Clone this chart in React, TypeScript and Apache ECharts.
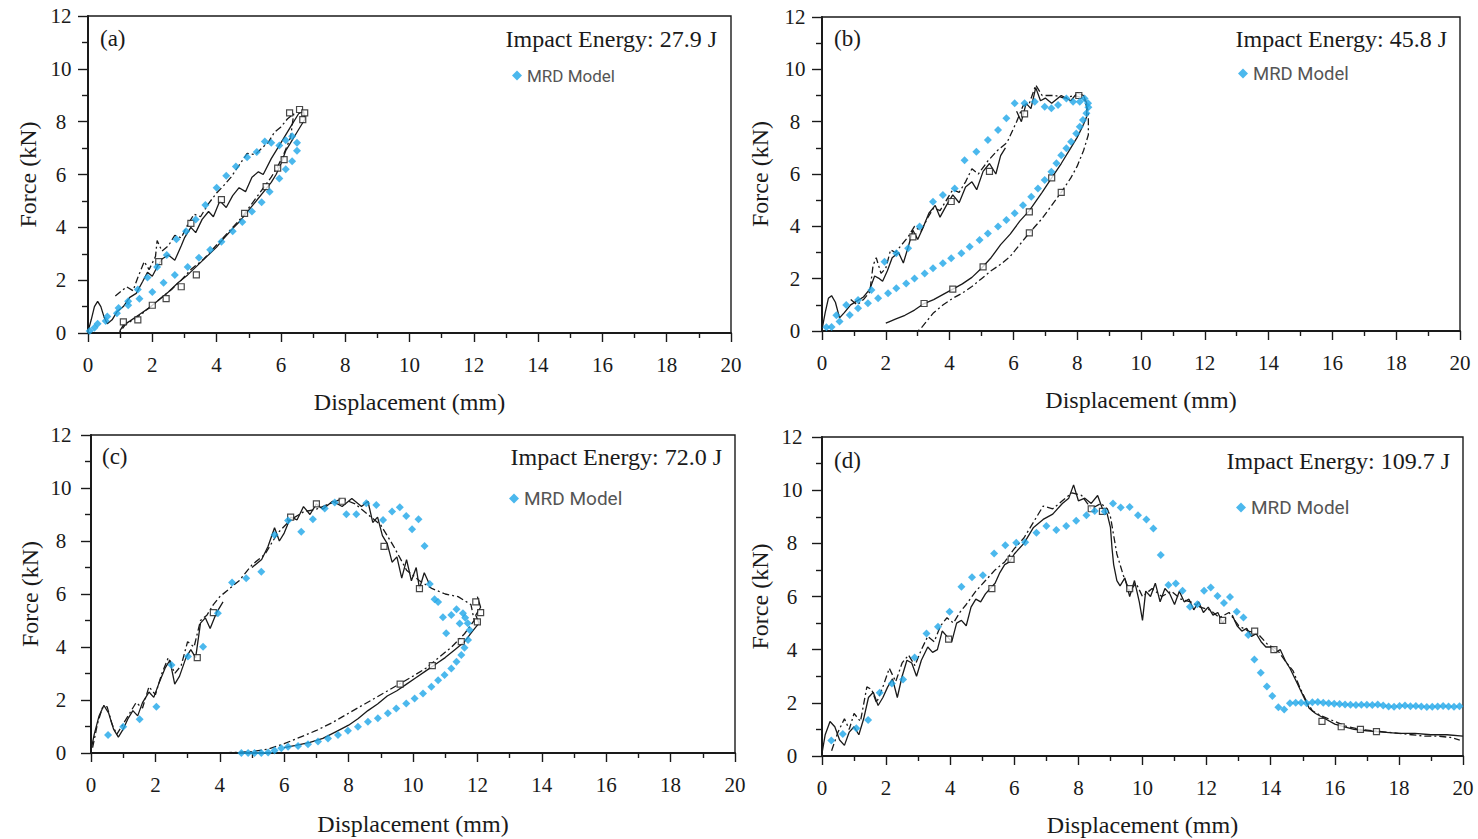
import React, { useEffect, useRef } from "react";
import * as echarts from "echarts";

// ---------------- DATA ----------------
const xTicks = [0, 2, 4, 6, 8, 10, 12, 14, 16, 18, 20];
const yTicks = [0, 2, 4, 6, 8, 10, 12];
const panelLabels = ["(a)", "(b)", "(c)", "(d)"];
const energyLabels = ["Impact Energy: 27.9 J", "Impact Energy: 45.8 J", "Impact Energy: 72.0 J", "Impact Energy: 109.7 J"];
const modelName = "MRD Model";

// Panel (a)
const mrdA = [
  [0.05, 0.08], [0.3, 0.35], [0.6, 0.62], [0.95, 0.95], [1.25, 1.2], [1.55, 1.65], [1.85, 2.1], [2.15, 2.5],
  [2.45, 2.95], [2.75, 3.55], [3.05, 3.85], [3.35, 4.3], [3.65, 4.85], [4.0, 5.5], [4.3, 5.95], [4.6, 6.3],
  [4.95, 6.65], [5.25, 6.85], [5.5, 7.25], [5.7, 7.2], [5.95, 7.1], [6.15, 7.3], [6.35, 7.45], [6.5, 7.2],
  [6.5, 6.9], [6.35, 6.5], [6.15, 6.2], [5.95, 5.85], [5.65, 5.35], [5.4, 4.95], [5.1, 4.6], [4.8, 4.2],
  [4.5, 3.85], [4.15, 3.45], [3.8, 3.15], [3.45, 2.85], [3.1, 2.5], [2.7, 2.2], [2.35, 1.9], [2.0, 1.55],
  [1.6, 1.3], [1.25, 1.05], [0.9, 0.75], [0.55, 0.45], [0.2, 0.2],
];
const solidA = [
  [0, 0.05], [0.1, 0.5], [0.2, 1.0], [0.3, 1.2], [0.4, 1.0], [0.5, 0.6], [0.6, 0.35], [0.75, 0.5], [0.9, 0.8],
  [1.1, 1.0], [1.3, 1.35], [1.5, 1.5], [1.7, 1.95], [1.85, 2.3], [2.0, 2.15], [2.15, 2.5], [2.3, 2.8], [2.5, 2.95],
  [2.7, 2.75], [2.9, 3.3], [3.0, 3.6], [3.2, 4.0], [3.35, 3.8], [3.55, 4.3], [3.75, 4.6], [3.9, 4.4], [4.1, 5.0],
  [4.3, 4.75], [4.5, 5.2], [4.7, 5.5], [4.9, 5.35], [5.1, 5.9], [5.3, 6.1], [5.45, 6.0], [5.7, 6.6], [6.0, 7.2],
  [6.3, 7.8], [6.55, 8.3], [6.7, 8.4], [6.75, 8.1], [6.5, 7.6], [6.3, 7.2], [6.15, 6.9], [6.0, 6.4], [5.85, 6.0],
  [5.7, 5.7], [5.5, 5.4], [5.3, 5.1], [5.1, 4.8], [4.9, 4.5], [4.7, 4.2], [4.5, 3.95], [4.2, 3.55], [4.0, 3.25],
  [3.7, 2.9], [3.4, 2.55], [3.1, 2.2], [2.8, 1.9], [2.5, 1.55], [2.2, 1.25], [1.9, 0.95], [1.6, 0.7], [1.3, 0.45],
  [1.1, 0.3], [1.0, 0.1], [1.0, 0],
];
const dashedA = [
  [0.85, 1.4], [1.0, 1.55], [1.2, 1.75], [1.4, 1.6], [1.55, 2.1], [1.75, 2.7], [1.9, 2.4], [2.1, 2.9], [2.15, 3.5],
  [2.3, 3.1], [2.5, 3.3], [2.7, 3.7], [2.9, 3.6], [3.1, 4.1], [3.3, 4.5], [3.5, 4.4], [3.75, 4.9], [4.0, 5.3],
  [4.2, 5.55], [4.45, 5.9], [4.7, 6.35], [4.95, 6.8], [5.2, 6.75], [5.45, 7.05], [5.6, 7.2], [5.8, 7.6], [6.0, 7.8],
  [6.2, 8.1], [6.4, 8.3], [6.3, 7.4], [6.1, 6.8], [5.9, 6.3], [5.7, 5.9], [5.4, 5.4], [5.1, 4.9], [4.8, 4.4],
  [4.5, 4.0], [4.2, 3.6], [3.9, 3.2], [3.6, 2.8], [3.2, 2.4], [2.9, 2.0], [2.6, 1.65], [2.3, 1.35], [2.0, 1.05],
  [1.7, 0.75], [1.4, 0.5], [1.15, 0.3], [1.0, 0.05], [1.0, 0], [3.0, 0],
];
const squaresA = [
  [2.2, 2.7], [3.2, 4.15], [4.15, 5.05], [1.1, 0.42], [1.55, 0.5], [2.0, 1.05], [2.43, 1.3], [2.9, 1.75], [3.37, 2.2],
  [4.87, 4.53], [5.54, 5.54], [5.9, 6.24], [6.1, 6.56], [6.27, 8.33], [6.58, 8.46], [6.74, 8.33], [6.68, 8.08],
];

// Panel (b)
const mrdB = [
  [0.14, 0.14], [0.45, 0.6], [0.76, 0.99], [1.13, 1.18], [1.55, 1.57], [1.96, 2.65], [2.33, 2.97], [2.7, 3.16],
  [3.06, 3.99], [3.48, 4.94], [3.79, 5.2], [4.16, 5.45], [4.47, 6.53], [4.84, 6.85], [5.2, 7.3], [5.52, 7.68],
  [5.78, 8.13], [6.04, 8.7], [6.35, 8.7], [6.67, 8.76], [6.98, 8.57], [7.19, 8.51], [7.4, 8.64], [7.66, 8.89],
  [7.87, 8.76], [8.08, 8.76], [8.23, 8.89], [8.34, 8.7], [8.35, 8.55], [8.29, 8.32], [8.18, 8.06], [8.08, 7.81],
  [7.97, 7.55], [7.81, 7.23], [7.66, 6.98], [7.5, 6.72], [7.35, 6.41], [7.19, 6.09], [6.98, 5.77], [6.77, 5.45],
  [6.56, 5.13], [6.3, 4.81], [6.04, 4.5], [5.78, 4.24], [5.52, 3.99], [5.2, 3.73], [4.94, 3.48], [4.63, 3.22],
  [4.37, 2.97], [4.05, 2.78], [3.79, 2.59], [3.48, 2.4], [3.22, 2.2], [2.9, 2.01], [2.64, 1.82], [2.33, 1.63],
  [2.07, 1.44], [1.76, 1.25], [1.44, 1.06], [1.13, 0.87], [0.87, 0.61], [0.55, 0.36], [0.3, 0.15],
];
const solidB1 = [
  [0, 0.05], [0.1, 0.7], [0.2, 1.25], [0.3, 1.35], [0.42, 1.1], [0.55, 0.5], [0.7, 0.7], [0.9, 1.0], [1.1, 1.15],
  [1.3, 1.3], [1.5, 1.6], [1.65, 2.1], [1.8, 2.0], [1.9, 1.9], [2.05, 2.3], [2.2, 2.8], [2.4, 3.0], [2.55, 2.6],
  [2.7, 3.2], [2.85, 3.85], [3.0, 3.5], [3.15, 3.9], [3.35, 4.5], [3.55, 4.8], [3.7, 4.35], [3.9, 4.8], [4.1, 5.2],
  [4.3, 4.9], [4.5, 5.5], [4.7, 5.7], [4.85, 5.4], [5.05, 6.1], [5.25, 6.4], [5.45, 6.0], [5.6, 6.7], [5.75, 7.0],
];
const solidB2 = [
  [6.1, 8.4], [6.25, 8.0], [6.4, 8.7], [6.55, 8.5], [6.7, 9.3], [6.85, 8.8], [7.0, 8.9], [7.2, 8.7], [7.5, 9.0],
  [7.8, 8.8], [8.0, 9.1], [8.2, 9.0], [8.3, 8.7], [8.3, 8.2], [8.2, 7.9], [8.0, 7.4], [7.8, 7.0], [7.5, 6.4],
  [7.2, 5.85], [6.9, 5.3], [6.5, 4.6], [6.2, 4.2], [5.9, 3.7], [5.6, 3.3], [5.3, 2.8], [5.0, 2.4], [4.7, 2.05],
  [4.4, 1.8], [4.1, 1.6], [3.8, 1.4], [3.5, 1.2], [3.2, 1.05], [2.9, 0.8], [2.6, 0.6], [2.3, 0.45], [2.1, 0.35],
  [2.0, 0.3],
];
const dashedB = [
  [0.9, 1.2], [1.1, 1.0], [1.3, 1.2], [1.5, 1.5], [1.6, 2.5], [1.7, 2.8], [1.85, 2.2], [2.0, 2.4], [2.15, 3.1],
  [2.3, 3.0], [2.5, 3.3], [2.7, 3.6], [2.9, 4.0], [3.1, 3.8], [3.3, 4.3], [3.5, 4.7], [3.7, 4.6], [3.9, 5.0],
  [4.1, 5.4], [4.3, 5.3], [4.5, 5.7], [4.7, 6.2], [4.9, 6.0], [5.2, 6.5], [5.5, 6.9], [5.8, 7.2], [6.1, 8.0],
  [6.3, 8.6], [6.5, 8.7], [6.7, 9.4], [6.9, 9.0], [7.3, 9.0], [7.6, 8.9], [7.9, 9.0], [8.2, 8.9], [8.35, 8.4],
  [8.35, 7.5], [8.2, 6.9], [8.0, 6.3], [7.8, 5.85], [7.5, 5.3], [7.2, 4.8], [6.9, 4.3], [6.5, 3.75], [6.2, 3.3],
  [5.9, 2.85], [5.6, 2.55], [5.3, 2.3], [5.0, 2.0], [4.7, 1.7], [4.4, 1.45], [4.1, 1.25], [3.8, 1.0], [3.5, 0.7],
  [3.3, 0.4], [3.1, 0.1], [3.0, 0], [0.6, 0],
];
const squaresB = [
  [2.85, 3.6], [4.05, 4.95], [5.25, 6.1], [6.35, 8.3], [8.05, 9.0], [3.2, 1.05], [4.1, 1.6], [5.05, 2.45],
  [6.5, 4.55], [7.2, 5.85], [6.5, 3.75], [7.5, 5.3],
];

// Panel (c)
const mrdC = [
  [0.53, 0.68], [1.0, 0.99], [1.51, 1.27], [2.03, 1.75], [2.5, 3.32], [3.01, 3.64], [3.48, 4.01], [3.94, 5.27],
  [4.38, 6.43], [4.82, 6.59], [5.29, 6.84], [5.7, 8.23], [6.12, 8.77], [6.53, 8.35], [6.89, 8.82], [7.26, 9.23],
  [7.57, 9.45], [7.93, 9.01], [8.24, 9.01], [8.55, 9.42], [8.86, 9.36], [9.07, 8.79], [9.35, 9.11], [9.59, 9.27],
  [9.79, 8.94], [9.97, 8.44], [10.17, 8.82], [10.36, 7.81], [10.52, 6.38], [10.67, 5.8], [10.78, 5.7],
  [10.93, 5.12], [11.03, 4.52], [11.19, 5.21], [11.35, 5.42], [11.45, 4.89], [11.55, 5.27], [11.62, 5.1],
  [11.7, 4.9], [11.76, 4.64], [11.71, 4.26], [11.6, 3.97], [11.5, 3.7], [11.35, 3.44], [11.19, 3.19],
  [10.98, 2.94], [10.78, 2.75], [10.57, 2.5], [10.31, 2.25], [10.05, 2.06], [9.79, 1.87], [9.48, 1.68],
  [9.22, 1.5], [8.91, 1.31], [8.6, 1.18], [8.29, 0.99], [7.98, 0.84], [7.67, 0.68], [7.36, 0.55], [7.05, 0.43],
  [6.74, 0.33], [6.43, 0.26], [6.12, 0.24], [5.91, 0.18], [5.7, 0.09], [5.5, 0.02], [5.29, 0.0], [5.08, 0.0],
  [4.88, 0.0], [4.67, 0.0],
];
const solidC1 = [
  [0, 0.1], [0.1, 0.7], [0.25, 1.4], [0.4, 1.8], [0.55, 1.5], [0.7, 0.9], [0.85, 0.6], [1.0, 0.9], [1.15, 1.3],
  [1.3, 1.6], [1.45, 1.4], [1.6, 1.9], [1.8, 2.3], [1.95, 2.1], [2.1, 2.6], [2.3, 3.2], [2.45, 3.5], [2.6, 2.6],
  [2.75, 2.9], [2.95, 3.6], [3.1, 3.9], [3.25, 3.6], [3.4, 4.9], [3.55, 5.1], [3.7, 4.7], [3.9, 5.3], [4.1, 5.7],
];
const solidC2 = [
  [5.0, 7.0], [5.3, 7.3], [5.5, 7.8], [5.7, 8.5], [5.85, 8.0], [6.0, 8.3], [6.2, 8.9], [6.4, 8.8],
  [6.6, 9.3], [6.8, 9.0], [7.0, 9.4], [7.2, 9.2], [7.5, 9.5], [7.8, 9.3], [8.1, 9.6], [8.4, 9.3], [8.6, 9.5],
  [8.75, 8.7], [8.9, 8.9], [9.05, 8.2], [9.2, 7.9], [9.35, 7.2], [9.5, 7.4], [9.65, 6.6], [9.8, 7.3], [9.95, 6.5],
  [10.1, 7.0], [10.2, 6.2], [10.35, 6.8], [10.5, 6.4],
];
const solidC3 = [
  [12.0, 5.9], [12.1, 5.5], [11.95, 5.2],
  [12.05, 4.9], [11.85, 4.6], [11.6, 4.2], [11.3, 3.9], [11.0, 3.6], [10.7, 3.35], [10.4, 3.1], [10.1, 2.85],
  [9.8, 2.6], [9.5, 2.35], [9.2, 2.15], [8.9, 1.85], [8.6, 1.6], [8.3, 1.3], [8.0, 1.05], [7.6, 0.8], [7.2, 0.55],
  [6.8, 0.4], [6.4, 0.3], [6.0, 0.2],
];
const dashedC = [
  [0.05, 0.2], [0.2, 1.1], [0.35, 1.7], [0.5, 1.75], [0.65, 1.1], [0.8, 0.7], [1.0, 1.1], [1.2, 1.5], [1.4, 1.9],
  [1.6, 1.7], [1.8, 2.5], [2.0, 2.2], [2.2, 3.0], [2.4, 3.6], [2.6, 3.0], [2.8, 3.3], [3.0, 4.2], [3.2, 4.0],
  [3.4, 5.0], [3.6, 5.2], [3.8, 5.6], [4.0, 5.9], [4.3, 6.2], [4.6, 6.5], [5.0, 7.1], [5.4, 7.5], [5.8, 8.3],
  [6.2, 8.8], [6.6, 9.1], [7.0, 9.2], [7.4, 9.4], [7.8, 9.6], [8.2, 9.4], [8.6, 9.0], [9.0, 8.6], [9.4, 7.8],
  [9.8, 6.9], [10.2, 6.5], [10.6, 6.2], [11.0, 6.0], [11.4, 5.9], [11.8, 5.6], [11.9, 5.0], [11.6, 4.5],
  [11.2, 4.0], [10.8, 3.6], [10.4, 3.2], [10.0, 2.9], [9.5, 2.55], [9.0, 2.2], [8.5, 1.85], [8.0, 1.5],
  [7.5, 1.15], [7.0, 0.85], [6.5, 0.6], [6.0, 0.35], [5.5, 0.15], [5.0, 0.05], [4.0, 0.0], [0.3, 0.0],
];
const squaresC = [
  [3.3, 3.6], [3.8, 5.3], [6.2, 8.9], [7.0, 9.4], [7.8, 9.5], [9.1, 7.8], [10.2, 6.2], [11.95, 5.7], [12.1, 5.3],
  [12.0, 4.95], [11.5, 4.2], [10.6, 3.3], [9.6, 2.6],
];

// Panel (d)
const mrdD = [
  [0.29, 0.58], [0.65, 0.83], [1.07, 1.04], [1.44, 1.35], [1.8, 2.38], [2.18, 2.73], [2.53, 2.88], [2.89, 3.71],
  [3.26, 4.61], [3.62, 4.86], [3.98, 5.43], [4.35, 6.37], [4.68, 6.72], [5.02, 6.8], [5.37, 7.62], [5.72, 7.93],
  [6.06, 8.02], [6.34, 8.04], [6.69, 8.4], [7.0, 8.65], [7.31, 8.5], [7.62, 8.65], [7.93, 8.85], [8.25, 9.06],
  [8.51, 9.22], [8.82, 9.2], [9.08, 9.5], [9.32, 9.35], [9.6, 9.37], [9.86, 9.06], [10.12, 8.9], [10.34, 8.56],
  [10.57, 7.56], [10.81, 6.43], [11.04, 6.49], [11.25, 6.22], [11.48, 5.61], [11.71, 5.71], [11.92, 6.22],
  [12.13, 6.34], [12.34, 6.02], [12.54, 5.76], [12.73, 5.98], [12.94, 5.43], [13.15, 5.21], [13.3, 4.55],
  [13.49, 3.63], [13.69, 3.13], [13.88, 2.61], [14.05, 2.26], [14.24, 1.83], [14.42, 1.75], [14.6, 1.98],
  [14.78, 2.0], [14.95, 2.0], [15.12, 1.98], [15.3, 2.02], [15.47, 2.03], [15.64, 2.0], [15.81, 1.98],
  [15.98, 1.97], [16.15, 1.96], [16.32, 1.94], [16.49, 1.93], [16.66, 1.92], [16.83, 1.93], [17.0, 1.93],
  [17.17, 1.92], [17.34, 1.94], [17.51, 1.9], [17.68, 1.86], [17.85, 1.85], [18.02, 1.88], [18.19, 1.9],
  [18.36, 1.87], [18.53, 1.88], [18.7, 1.86], [18.87, 1.84], [19.04, 1.85], [19.21, 1.86], [19.38, 1.88],
  [19.55, 1.86], [19.72, 1.85], [19.89, 1.87],
];
const solidD1 = [
  [0, 0.1], [0.1, 0.8], [0.25, 1.3], [0.4, 1.1], [0.55, 0.6], [0.7, 0.4], [0.85, 0.9], [1.0, 1.1], [1.15, 0.8],
  [1.3, 1.4], [1.45, 2.2], [1.6, 2.4], [1.75, 1.9], [1.9, 2.2], [2.05, 2.6], [2.2, 2.9], [2.35, 2.2], [2.5, 3.0],
  [2.65, 3.6], [2.8, 3.5], [2.95, 3.0], [3.1, 3.6], [3.3, 4.1], [3.45, 3.9], [3.6, 4.0], [3.75, 4.7], [3.9, 4.5],
  [4.05, 4.3], [4.2, 5.0], [4.35, 5.1], [4.5, 4.9], [4.65, 5.6], [4.8, 5.9], [4.95, 5.8], [5.1, 6.1], [5.25, 6.3],
  [5.4, 6.5], [5.55, 6.9], [5.7, 7.2], [5.85, 7.3], [6.0, 7.6], [6.3, 8.0], [6.6, 8.6], [6.9, 8.9], [7.2, 9.1],
  [7.5, 9.5], [7.7, 9.7], [7.85, 10.2], [8.0, 9.6], [8.2, 9.7], [8.4, 9.5], [8.6, 9.8], [8.75, 9.3], [8.9, 9.1],
  [9.0, 8.6], [9.05, 7.8], [9.1, 7.2], [9.2, 6.6], [9.3, 6.4], [9.45, 6.7], [9.6, 6.0], [9.75, 6.6], [9.9, 5.8],
  [10.0, 5.1], [10.1, 6.2], [10.25, 6.0], [10.4, 6.5], [10.55, 5.8], [10.7, 6.3], [10.85, 6.1], [11.0, 5.7],
  [11.15, 6.2], [11.3, 5.8], [11.45, 5.9], [11.6, 5.5], [11.75, 5.8], [11.9, 5.4], [12.05, 5.6], [12.2, 5.3],
  [12.35, 5.4], [12.5, 5.0], [12.6, 5.2],
];
const solidD2 = [
  [12.8, 5.3], [12.95, 4.9], [13.1, 4.7], [13.25, 4.8], [13.4, 4.5],
  [13.55, 4.6], [13.7, 4.3], [13.85, 4.1], [14.0, 4.1], [14.15, 3.9], [14.3, 4.0], [14.45, 3.6], [14.6, 3.3],
  [14.8, 2.8], [15.0, 2.3], [15.2, 1.8], [15.4, 1.6], [15.7, 1.4], [16.0, 1.2], [16.3, 1.1], [16.6, 1.0],
  [17.0, 0.95], [17.5, 0.9], [18.0, 0.85], [18.5, 0.85], [19.0, 0.8], [19.5, 0.8], [20.0, 0.75],
];
const dashedD = [
  [0.3, 0.2], [0.5, 0.9], [0.7, 1.4], [0.85, 1.0], [1.0, 1.6], [1.2, 1.3], [1.4, 2.6], [1.55, 2.5], [1.7, 2.0],
  [1.9, 2.6], [2.1, 3.3], [2.3, 2.8], [2.5, 3.5], [2.7, 3.8], [2.9, 3.4], [3.1, 4.0], [3.3, 4.5], [3.5, 4.3],
  [3.7, 4.9], [3.9, 5.2], [4.1, 5.0], [4.3, 5.4], [4.5, 5.7], [4.8, 6.2], [5.1, 6.6], [5.4, 7.0], [5.7, 7.3],
  [6.0, 7.8], [6.3, 8.2], [6.6, 8.8], [6.9, 9.4], [7.2, 9.3], [7.5, 9.6], [7.8, 9.9], [8.1, 9.8], [8.4, 9.3],
  [8.7, 9.5], [8.9, 9.3], [9.0, 9.0], [9.2, 7.6], [9.4, 6.8], [9.6, 6.2], [9.8, 6.5], [10.0, 6.0], [10.3, 6.3],
  [10.6, 6.0], [10.9, 6.2], [11.2, 5.9], [11.5, 5.8], [11.8, 5.6], [12.1, 5.5], [12.4, 5.2], [12.7, 5.4],
  [13.0, 4.9], [13.3, 4.7], [13.6, 4.6], [13.9, 4.2], [14.2, 4.0], [14.5, 3.5], [14.7, 3.2], [14.9, 2.6],
  [15.1, 2.1], [15.3, 1.7], [15.6, 1.5], [16.0, 1.3], [16.4, 1.1], [16.8, 1.0], [17.2, 0.95], [17.6, 0.9],
  [18.0, 0.85], [18.4, 0.8], [18.8, 0.75], [19.2, 0.75], [19.6, 0.7], [19.9, 0.6],
];
const squaresD = [
  [3.95, 4.4], [5.3, 6.3], [5.9, 7.4], [8.4, 9.3], [8.75, 9.2], [9.6, 6.3], [12.5, 5.1], [13.5, 4.7], [14.1, 4.0],
  [15.6, 1.3], [16.2, 1.1], [16.8, 1.0], [17.3, 0.92],
];

const mrdSets = [mrdA, mrdB, mrdC, mrdD];
const solidSets = [[solidA], [solidB1, solidB2], [solidC1, solidC2, solidC3], [solidD1, solidD2]];
const dashedSets = [dashedA, dashedB, dashedC, dashedD];
const squareSets = [squaresA, squaresB, squaresC, squaresD];

// ---------------- LAYOUT / STYLE ----------------
const SERIF = '"Liberation Serif", "Times New Roman", serif';
const SANS = 'Roboto, "Noto Sans", sans-serif';
const INK = "#1a1a1a";
const BLUE = "#1ea6e8";

const layout = [
  { grid: { left: 88, top: 16, width: 643, height: 317 }, yMargin: 27, xGap: 57, yGap: 48,
    label: { left: 100, top: 27 }, energy: { right: 761, top: 27 }, legend: { left: 512, top: 67, fs: 17 } },
  { grid: { left: 822, top: 17, width: 638, height: 314 }, yMargin: 27, xGap: 57, yGap: 50,
    label: { left: 834, top: 27 }, energy: { right: 31, top: 27 }, legend: { left: 1238, top: 64, fs: 18.5 } },
  { grid: { left: 91, top: 435, width: 644, height: 318 }, yMargin: 30, xGap: 59, yGap: 49,
    label: { left: 102, top: 445 }, energy: { right: 756, top: 445 }, legend: { left: 509, top: 489, fs: 19 } },
  { grid: { left: 822, top: 437, width: 641, height: 319 }, yMargin: 30, xGap: 57, yGap: 50,
    label: { left: 834, top: 449 }, energy: { right: 28, top: 449 }, legend: { left: 1236, top: 498, fs: 19 } },
];

function buildOption() {
  const grid: any[] = [];
  const xAxis: any[] = [];
  const yAxis: any[] = [];
  const series: any[] = [];
  const title: any[] = [];
  const legend: any[] = [];
  const tickStyle = { color: INK, width: 1.4 };

  layout.forEach((L, i) => {
    grid.push({ ...L.grid, show: true, borderColor: INK, borderWidth: 1.4, backgroundColor: "transparent" });
    xAxis.push({
      gridIndex: i, type: "value", min: xTicks[0], max: xTicks[xTicks.length - 1], interval: xTicks[1] - xTicks[0],
      name: "Displacement (mm)", nameLocation: "middle", nameGap: L.xGap,
      nameTextStyle: { fontFamily: SERIF, fontSize: 24, color: INK },
      axisLine: { show: true, onZero: false, lineStyle: { color: INK, width: 2 } },
      axisTick: { show: true, inside: false, length: 9, lineStyle: tickStyle },
      minorTick: { show: true, splitNumber: 2, length: 5, lineStyle: tickStyle },
      axisLabel: { margin: 21, fontFamily: SERIF, fontSize: 21, color: INK },
      splitLine: { show: false }, minorSplitLine: { show: false },
    });
    yAxis.push({
      gridIndex: i, type: "value", min: yTicks[0], max: yTicks[yTicks.length - 1], interval: yTicks[1] - yTicks[0],
      name: "Force (kN)", nameLocation: "middle", nameGap: L.yGap,
      nameTextStyle: { fontFamily: SERIF, fontSize: 24, color: INK },
      axisLine: { show: true, onZero: false, lineStyle: { color: INK, width: 2 } },
      axisTick: { show: true, inside: false, length: 10, lineStyle: tickStyle },
      minorTick: { show: true, splitNumber: 2, length: 6, lineStyle: tickStyle },
      axisLabel: { margin: L.yMargin, align: "center", fontFamily: SERIF, fontSize: 21, color: INK },
      splitLine: { show: false }, minorSplitLine: { show: false },
    });
    title.push({
      text: panelLabels[i], left: L.label.left, top: L.label.top, padding: 0,
      textStyle: { fontFamily: SERIF, fontSize: 23, fontWeight: "normal", color: INK },
    });
    title.push({
      text: energyLabels[i], right: L.energy.right, top: L.energy.top, padding: 0,
      textStyle: { fontFamily: SERIF, fontSize: 24, fontWeight: "normal", color: INK },
    });
    legend.push({
      data: [modelName], left: L.legend.left, top: L.legend.top, padding: 0,
      icon: "diamond", itemWidth: 10, itemHeight: 10, itemGap: 5, selectedMode: false,
      textStyle: { fontFamily: SANS, fontSize: L.legend.fs, color: "#555" },
    });

    solidSets[i].forEach((seg, k) => {
      series.push({
        type: "line", name: "exp-solid-" + i + "-" + k, xAxisIndex: i, yAxisIndex: i, data: seg,
        showSymbol: false, symbol: "none", lineStyle: { color: INK, width: 1.3 }, z: 2, silent: true,
      });
    });
    series.push({
      type: "line", name: "exp-dashed-" + i, xAxisIndex: i, yAxisIndex: i, data: dashedSets[i],
      showSymbol: false, symbol: "none", lineStyle: { color: INK, width: 1.3, type: [7, 3, 2, 3] }, z: 2, silent: true,
    });
    series.push({
      type: "scatter", name: "exp-squares-" + i, xAxisIndex: i, yAxisIndex: i, data: squareSets[i],
      symbol: "rect", symbolSize: 6, itemStyle: { color: "#ffffff", borderColor: INK, borderWidth: 1.2 }, z: 3, silent: true,
    });
    series.push({
      type: "scatter", name: modelName, xAxisIndex: i, yAxisIndex: i, data: mrdSets[i],
      symbol: "diamond", symbolSize: 8, itemStyle: { color: BLUE }, z: 5,
    });
  });

  return { animation: false, backgroundColor: "#ffffff", grid, xAxis, yAxis, series, title, legend };
}

export default function App() {
  const ref = useRef<HTMLDivElement>(null);
  useEffect(() => {
    if (!ref.current) return;
    const chart = echarts.init(ref.current, undefined, { renderer: "svg" });
    chart.setOption(buildOption());
    return () => chart.dispose();
  }, []);
  return (
    <div
      ref={ref}
      style={{ position: "fixed", left: 0, top: 0, width: 1478, height: 839, background: "#fff" }}
    />
  );
}
